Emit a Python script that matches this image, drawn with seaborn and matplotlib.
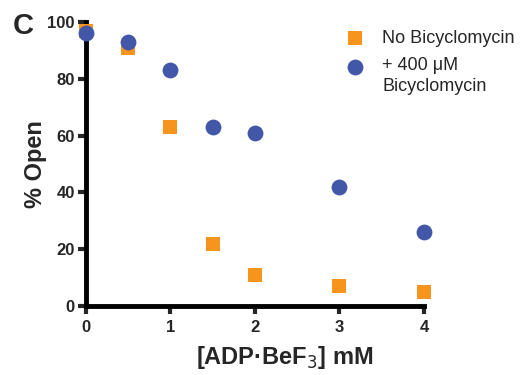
import matplotlib
matplotlib.use("Agg")
import matplotlib.pyplot as plt
import seaborn as sns
import pandas as pd

# values
adp = [0, 0.5, 1, 1.5, 2, 3, 4]
no_bcm = [97, 91, 63, 22, 11, 7, 5]
plus_bcm = [96, 93, 83, 63, 61, 42, 26]
labels = ["No Bicyclomycin", "+ 400 μM\nBicyclomycin"]

df = pd.DataFrame({
    "adp": adp + adp,
    "open": no_bcm + plus_bcm,
    "cond": [labels[0]] * len(adp) + [labels[1]] * len(adp),
})

sns.set_style("ticks")
plt.rcParams["font.family"] = ["Liberation Sans", "DejaVu Sans"]

fig = plt.figure(figsize=(5.24, 3.75), dpi=100)
ax = fig.add_axes([0.164, 0.184, 0.645, 0.757])

palette = {labels[0]: "#F7941D", labels[1]: "#4257A8"}
markers = {labels[0]: "s", labels[1]: "o"}
sizes = {labels[0]: 105, labels[1]: 130}
for lab in labels:
    sub = df[df["cond"] == lab]
    sns.scatterplot(data=sub, x="adp", y="open", color=palette[lab],
                    marker=markers[lab], s=sizes[lab], linewidth=0,
                    ax=ax, label=lab, clip_on=False, zorder=3)

ax.set_xlim(0, 4)
ax.set_ylim(0, 100)
ax.set_xticks([0, 1, 2, 3, 4])
ax.set_yticks([0, 20, 40, 60, 80, 100])
for side in ["top", "right"]:
    ax.spines[side].set_visible(False)
for side in ["left", "bottom"]:
    ax.spines[side].set_linewidth(3.5)
    ax.spines[side].set_color("black")
ax.tick_params(width=3, length=6, labelsize=12)
ax.tick_params(axis="x", pad=4)
ax.tick_params(axis="y", pad=2)
for t in ax.get_xticklabels() + ax.get_yticklabels():
    t.set_fontweight("bold")

ax.set_xlabel("[ADP·BeF$_3$] mM", fontsize=17, fontweight="bold")
ax.set_ylabel("% Open", fontsize=17, fontweight="bold")
ax.xaxis.set_label_coords(0.589, -0.135)
ax.yaxis.set_label_coords(-0.114, 0.5)

leg = ax.legend(loc="upper left", bbox_to_anchor=(0.643, 0.92),
                bbox_transform=fig.transFigure, frameon=False,
                fontsize=13, handletextpad=0.5, labelspacing=0.55,
                borderaxespad=0, borderpad=0)
for t in leg.get_texts():
    t.set_linespacing(1.35)
# circle sits by the first line of its two-line label
h = leg.legend_handles[1]
h.set_offsets(h.get_offsets() + [0, 8])

fig.text(0.025, 0.968, "C", fontsize=21, fontweight="bold", va="top")

fig.savefig("out.png", dpi=100)
